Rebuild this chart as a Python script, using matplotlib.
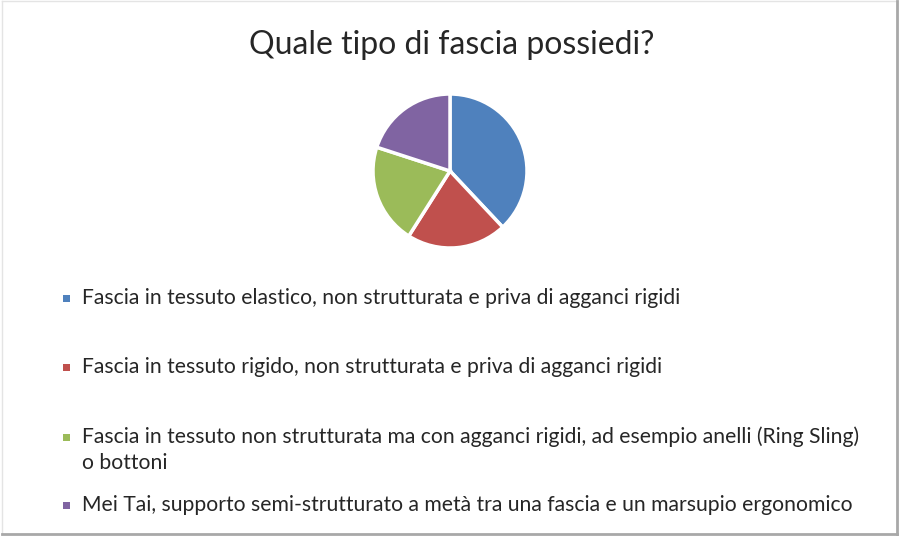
import matplotlib.pyplot as plt
from matplotlib.patches import Rectangle
from matplotlib.lines import Line2D

plt.rcParams['font.family'] = ['Lato', 'DejaVu Sans']

# data
title = 'Quale tipo di fascia possiedi?'
labels = [
    'Fascia in tessuto elastico, non strutturata e priva di agganci rigidi',
    'Fascia in tessuto rigido, non strutturata e priva di agganci rigidi',
    'Fascia in tessuto non strutturata ma con agganci rigidi, ad esempio anelli (Ring Sling)\no bottoni',
    'Mei Tai, supporto semi-strutturato a metà tra una fascia e un marsupio ergonomico',
]
values = [38, 21, 21, 20]
colors = ['#4F81BD', '#C0504D', '#9BBB59', '#8064A2']

W, H = 900, 540
fig = plt.figure(figsize=(9, 5.4), dpi=100)
fig.patch.set_facecolor('white')

# pie, center ~ (450, 171) px, radius ~ 77 px
cx, cy, half = 450, 171, 80
ax = fig.add_axes([(cx - half) / W, (H - cy - half) / H, 2 * half / W, 2 * half / H])
ax.pie(values, colors=colors, startangle=90, counterclock=False,
       radius=77 / 80, wedgeprops=dict(edgecolor='white', linewidth=2.5))
ax.set_aspect('equal')
ax.set_xlim(-1, 1)
ax.set_ylim(-1, 1)
ax.axis('off')

fig.text(452 / W, 1 - 45 / H, title, ha='center', va='center',
         fontsize=23, color='#262626')

# legend rows
row_y = [298, 367, 437, 505]
line_step = 26
for lab, col, y in zip(labels, colors, row_y):
    fig.patches.append(Rectangle((63 / W, 1 - (y + 4) / H), 7 / W, 7 / H,
                                 transform=fig.transFigure, facecolor=col,
                                 edgecolor='none'))
    for j, line in enumerate(lab.split('\n')):
        fig.text(82 / W, 1 - (y + j * line_step) / H, line, ha='left', va='center',
                 fontsize=15.2, color='#262626')

# frame: faint top/left, darker bottom/right
def frame_line(x0, y0, x1, y1, c, lw):
    fig.add_artist(Line2D([x0 / W, x1 / W], [1 - y0 / H, 1 - y1 / H],
                          transform=fig.transFigure, color=c, linewidth=lw))

frame_line(2, 1, 897, 1, '#E4E4E4', 1.0)
frame_line(2, 1, 2, 534, '#E4E4E4', 1.0)
frame_line(2, 534, 897, 534, '#A8A8A8', 2.0)
frame_line(897, 1, 897, 534, '#A8A8A8', 2.0)

fig.savefig('out.png', dpi=100)
